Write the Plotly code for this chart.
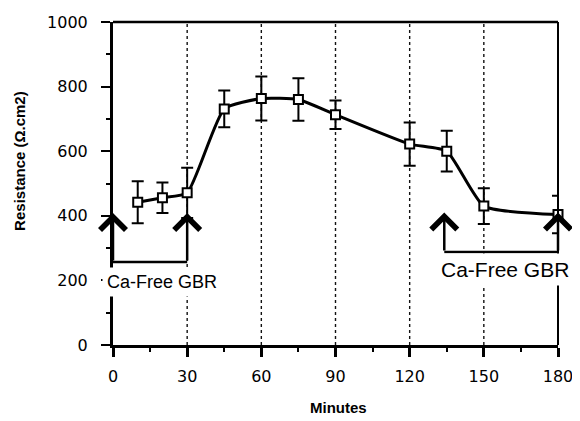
import plotly.graph_objects as go

minutes = [10, 20, 30, 45, 60, 75, 90, 120, 135, 150, 180]
resistance = [442, 456, 471, 731, 763, 760, 713, 622, 600, 430, 404]
error = [65, 47, 78, 57, 68, 66, 44, 67, 63, 55, 58]

x_ticks = [0, 30, 60, 90, 120, 150, 180]
y_ticks = [0, 200, 400, 600, 800, 1000]

# treatment periods: start, end, bracket level, arrow tip, label x, label y
period_start = [0, 134]
period_end = [30, 180]
bracket_level = [257, 288]
arrow_tip = [409, 410]
label_x = [20, 158.5]
label_y = [195, 235]
label = "Ca-Free GBR"

FONT = "Liberation Sans, Arial, Helvetica, sans-serif"
TICKFONT = "DejaVu Sans, Verdana, sans-serif"

fig = go.Figure()
fig.add_trace(go.Scatter(
    x=minutes, y=resistance, mode="lines+markers",
    line=dict(color="black", width=3, shape="spline", smoothing=0.5),
    marker=dict(symbol="square", size=9, color="white", line=dict(color="black", width=2)),
    error_y=dict(type="data", array=error, color="black", thickness=2, width=6),
    cliponaxis=False, showlegend=False,
))

shapes = []
for xv in x_ticks[1:-1]:
    shapes.append(dict(type="line", xref="x", yref="paper", x0=xv, x1=xv, y0=0, y1=1,
                       line=dict(color="#111", width=1.4, dash="dot"), layer="below"))
# top and right frame
shapes.append(dict(type="line", xref="paper", yref="paper", x0=0, x1=1, y0=1, y1=1,
                   line=dict(color="black", width=2.5)))
shapes.append(dict(type="line", xref="paper", yref="paper", x0=1, x1=1, y0=0, y1=1,
                   line=dict(color="black", width=2)))

annotations = []
sizes = [18, 21]
for i in range(len(period_start)):
    s, e, lvl, tip = period_start[i], period_end[i], bracket_level[i], arrow_tip[i]
    shapes.append(dict(type="line", xref="x", yref="y", x0=s, x1=e, y0=lvl, y1=lvl,
                       line=dict(color="black", width=2.5)))
    for xv in (s, e):
        annotations.append(dict(x=xv, y=tip, ax=xv, ay=lvl, xref="x", yref="y",
                                axref="x", ayref="y", showarrow=True, arrowhead=4,
                                arrowsize=2, arrowwidth=2.5, arrowcolor="black", text=""))
    annotations.append(dict(x=label_x[i], y=label_y[i], xref="x", yref="y", text=label,
                            showarrow=False, bgcolor="white", borderpad=4,
                            font=dict(family=FONT, size=sizes[i], color="black")))

# axis titles
annotations.append(dict(x=0.506, y=-0.192, xref="paper", yref="paper", text="<b>Minutes</b>",
                        xanchor="center", yanchor="middle",
                        showarrow=False, font=dict(family=FONT, size=15, color="black")))
annotations.append(dict(x=-0.209, y=0.57, xref="paper", yref="paper",
                        text="<b>Resistance (Ω.cm2)</b>", textangle=-90,
                        xanchor="center", yanchor="middle",
                        showarrow=False, font=dict(family=FONT, size=15, color="black")))

fig.update_layout(
    width=572, height=413,
    margin=dict(l=105, r=22, t=14, b=76),
    paper_bgcolor="white", plot_bgcolor="white",
    shapes=shapes, annotations=annotations,
    font=dict(family=FONT, color="black"),
    xaxis=dict(range=[0, 180], tickvals=x_ticks, showgrid=False, zeroline=False,
               automargin=False,
               showline=True, linecolor="black", linewidth=3,
               ticks="outside", ticklen=9, tickwidth=2.5, tickcolor="black",
               ticklabelposition="outside", ticklabelstandoff=6,
               minor=dict(dtick=15, tick0=0, ticks="outside", ticklen=4, tickwidth=2, tickcolor="black"),
               tickfont=dict(size=16, family=TICKFONT)),
    yaxis=dict(range=[0, 1000], tickvals=y_ticks, showgrid=False, zeroline=False,
               automargin=False,
               showline=True, linecolor="black", linewidth=3,
               ticks="outside", ticklen=9, tickwidth=2, tickcolor="black",
               ticklabelposition="outside", ticklabelstandoff=10,
               minor=dict(dtick=100, tick0=0, ticks="outside", ticklen=4, tickwidth=2, tickcolor="black"),
               tickfont=dict(size=16, family=TICKFONT)),
)

fig.write_html("out.html")
